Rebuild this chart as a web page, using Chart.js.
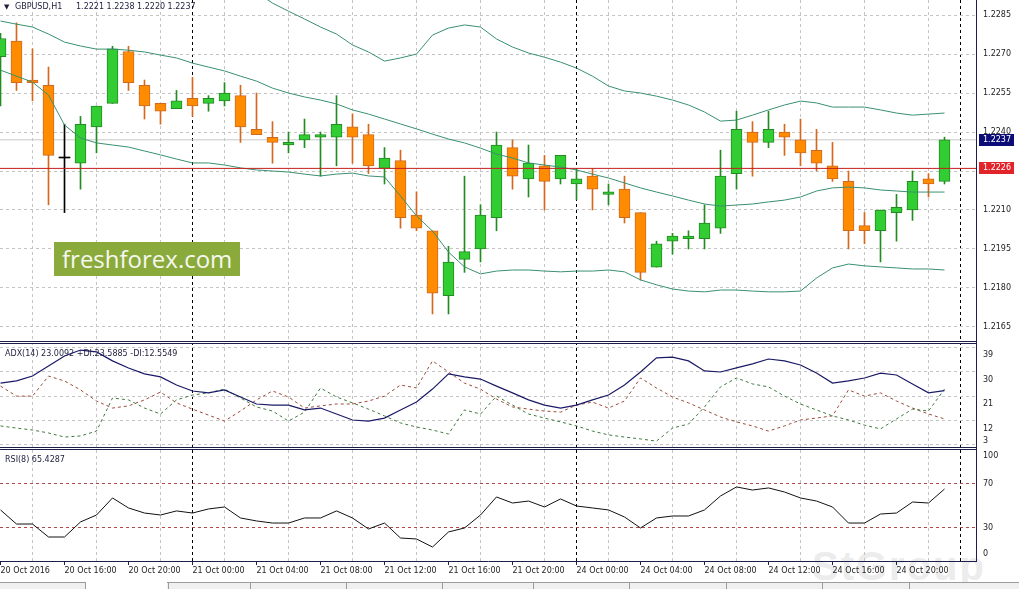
<!DOCTYPE html>
<html>
<head>
<meta charset="utf-8">
<script src="https://cdn.jsdelivr.net/npm/chart.js@4.4.0/dist/chart.umd.min.js"></script>
<style>
  html, body { margin: 0; padding: 0; background: #fff; }
  #wrap { position: relative; width: 1019px; height: 589px; overflow: hidden; font-family: 'DejaVu Sans', sans-serif; }
  #chart { position: absolute; left: 0; top: 0; z-index: 1; }
  .txt { position: absolute; z-index: 2; font-size: 8px; line-height: 10px; color: #1d1d3d; white-space: pre; }
  #brand { position: absolute; z-index: 2; left: 54px; top: 242px; width: 186px; height: 34px; background: #8aaa3c;
           color: #f6f8ee; font-family: 'Open Sans', sans-serif; font-size: 24px; line-height: 34px; text-indent: 8px; }
  #mark { position: absolute; z-index: 0; left: 812px; top: 544px; font-family: 'Liberation Sans', sans-serif;
          font-size: 40px; font-weight: bold; color: #ececec; letter-spacing: 2px; }
  #tabs { position: absolute; z-index: 2; left: 0; top: 582px; width: 1019px; height: 7px; background: #f0f0f0; border-top: 1px solid #9c9c9c; }
  #tabs i { position: absolute; top: 0; width: 1px; height: 7px; background: #9c9c9c; }
  #tabs b { position: absolute; top: -1px; left: 86px; width: 81px; height: 8px; background: #fff; }
</style>
</head>
<body>
<div id="wrap">
  <div id="mark">StGroup</div>
  <canvas id="chart" width="1019" height="589"></canvas>
  <div class="txt" style="left:4px;top:2px;font-size:7px;">▼</div>
  <div class="txt" style="left:15px;top:2px;">GBPUSD,H1</div>
  <div class="txt" style="left:76px;top:2px;">1.2221 1.2238 1.2220 1.2237</div>
  <div class="txt" style="left:5px;top:349px;">ADX(14) 23.0092 +DI:23.5885 -DI:12.5549</div>
  <div class="txt" style="left:5px;top:455px;">RSI(8) 65.4287</div>
  <div id="brand">freshforex.com</div>
  <div id="tabs"><b></b><i style="left:85px"></i><i style="left:168px"></i><i style="left:250px"></i><i style="left:346px"></i><i style="left:442px"></i><i style="left:533px"></i><i style="left:629px"></i><i style="left:726px"></i><i style="left:822px"></i><i style="left:909px"></i></div>
</div>
<script>
// GBPUSD H1, 20 Oct 12:00 .. 24 Oct 23:00
const openP = [
  1.2269, 1.2275, 1.2260, 1.2258, 1.2230, 1.2228, 1.2242, 1.2251, 1.2271, 1.2258,
  1.2251, 1.2249, 1.2253, 1.2251, 1.2252, 1.2254, 1.2241, 1.2238, 1.2235, 1.2237,
  1.2238, 1.2238, 1.2242, 1.2239, 1.2226, 1.2229, 1.2208, 1.2202, 1.2177, 1.2191,
  1.2195, 1.2207, 1.2234, 1.2222, 1.2227, 1.2222, 1.2220, 1.2223, 1.2216, 1.2218,
  1.2209, 1.2188, 1.2198, 1.2199, 1.2199, 1.2203, 1.2224, 1.2240, 1.2236, 1.2240,
  1.2237, 1.2233, 1.2227, 1.2221, 1.2204, 1.2202, 1.2209, 1.2210, 1.2222, 1.2221];
const highP = [
  1.2278, 1.2282, 1.2272, 1.2265, 1.2243, 1.2246, 1.2250, 1.2273, 1.2273, 1.2260,
  1.2251, 1.2256, 1.2261, 1.2254, 1.2259, 1.2258, 1.2255, 1.2244, 1.2240, 1.2245,
  1.2240, 1.2254, 1.2247, 1.2243, 1.2234, 1.2233, 1.2217, 1.2202, 1.2196, 1.2223,
  1.2212, 1.2240, 1.2237, 1.2235, 1.2231, 1.2231, 1.2226, 1.2226, 1.2220, 1.2223,
  1.2209, 1.2198, 1.2201, 1.2202, 1.2212, 1.2233, 1.2248, 1.2244, 1.2248, 1.2243,
  1.2245, 1.2241, 1.2236, 1.2225, 1.2209, 1.2210, 1.2216, 1.2225, 1.2224, 1.2238];
const lowP = [
  1.2250, 1.2256, 1.2252, 1.2212, 1.2209, 1.2218, 1.2232, 1.2251, 1.2256, 1.2245,
  1.2243, 1.2249, 1.2246, 1.2248, 1.2250, 1.2236, 1.2239, 1.2228, 1.2232, 1.2234,
  1.2223, 1.2227, 1.2228, 1.2224, 1.2220, 1.2203, 1.2202, 1.2170, 1.2170, 1.2186,
  1.2190, 1.2202, 1.2218, 1.2215, 1.2210, 1.2220, 1.2214, 1.2210, 1.2212, 1.2205,
  1.2183, 1.2188, 1.2193, 1.2195, 1.2195, 1.2201, 1.2218, 1.2223, 1.2234, 1.2231,
  1.2227, 1.2225, 1.2221, 1.2195, 1.2197, 1.2190, 1.2198, 1.2206, 1.2215, 1.2220];
const closeP = [
  1.2276, 1.2259, 1.2259, 1.2231, 1.2230, 1.2243, 1.2250, 1.2272, 1.2259, 1.2250,
  1.2248, 1.2252, 1.2250, 1.2253, 1.2255, 1.2242, 1.2239, 1.2236, 1.2236, 1.2239,
  1.2239, 1.2243, 1.2238, 1.2227, 1.2230, 1.2207, 1.2203, 1.2178, 1.2190, 1.2194,
  1.2208, 1.2235, 1.2223, 1.2228, 1.2221, 1.2231, 1.2222, 1.2218, 1.2217, 1.2207,
  1.2186, 1.2197, 1.2200, 1.2200, 1.2205, 1.2223, 1.2241, 1.2236, 1.2241, 1.2238,
  1.2232, 1.2228, 1.2222, 1.2202, 1.2202, 1.2210, 1.2211, 1.2221, 1.2220, 1.2237];

// Bollinger bands
const bbUpper = [
  1.23015, 1.23015, 1.23015, 1.23012, 1.23065, 1.23085, 1.23081, 1.23088, 1.23088, 1.23088,
  1.23081, 1.23073, 1.23050, 1.23019, 1.22996, 1.22969, 1.22938, 1.22896, 1.22865, 1.22835,
  1.22804, 1.22777, 1.22735, 1.22708, 1.22673, 1.22685, 1.22700, 1.22773, 1.22800, 1.22812,
  1.22804, 1.22758, 1.22727, 1.22704, 1.22688, 1.22669, 1.22646, 1.22615, 1.22577, 1.22558,
  1.22550, 1.22538, 1.22523, 1.22504, 1.22477, 1.22442, 1.22446, 1.22465, 1.22485, 1.22504,
  1.22519, 1.22512, 1.22496, 1.22496, 1.22496, 1.22485, 1.22473, 1.22465, 1.22469, 1.22473];
const bbMid = [
  1.22827, 1.22815, 1.22804, 1.22777, 1.22746, 1.22731, 1.22719, 1.22719, 1.22715, 1.22708,
  1.22696, 1.22685, 1.22665, 1.22650, 1.22635, 1.22615, 1.22596, 1.22569, 1.22550, 1.22535,
  1.22523, 1.22508, 1.22485, 1.22469, 1.22450, 1.22431, 1.22412, 1.22392, 1.22373, 1.22358,
  1.22338, 1.22315, 1.22300, 1.22281, 1.22273, 1.22265, 1.22254, 1.22238, 1.22223, 1.22204,
  1.22185, 1.22169, 1.22154, 1.22138, 1.22123, 1.22115, 1.22119, 1.22123, 1.22131, 1.22138,
  1.22150, 1.22173, 1.22185, 1.22188, 1.22185, 1.22177, 1.22173, 1.22169, 1.22169, 1.22169];
const bbLower = [
  1.22638, 1.22615, 1.22592, 1.22542, 1.22427, 1.22377, 1.22358, 1.22350, 1.22342, 1.22327,
  1.22312, 1.22296, 1.22281, 1.22281, 1.22273, 1.22262, 1.22254, 1.22250, 1.22246, 1.22238,
  1.22231, 1.22238, 1.22242, 1.22231, 1.22227, 1.22154, 1.22077, 1.22019, 1.21938, 1.21881,
  1.21854, 1.21865, 1.21869, 1.21869, 1.21865, 1.21862, 1.21865, 1.21865, 1.21869, 1.21862,
  1.21831, 1.21812, 1.21796, 1.21788, 1.21785, 1.21792, 1.21792, 1.21788, 1.21785, 1.21785,
  1.21788, 1.21838, 1.21877, 1.21892, 1.21885, 1.21881, 1.21877, 1.21873, 1.21873, 1.21869];

// ADX(14)
const adx = [
  25.8, 26.6, 28.4, 32.1, 35.8, 38.0, 37.3, 34.0, 31.4, 29.2,
  28.1, 25.1, 22.9, 22.2, 23.3, 20.7, 18.1, 17.7, 17.7, 15.9,
  16.6, 14.4, 12.2, 11.8, 12.9, 15.9, 18.8, 23.6, 29.2, 28.1,
  27.3, 24.7, 22.2, 19.6, 17.7, 16.6, 17.7, 19.6, 21.4, 25.1,
  29.9, 35.1, 35.4, 34.0, 30.3, 29.9, 31.4, 32.9, 34.7, 34.0,
  32.5, 29.5, 25.8, 26.6, 27.7, 29.5, 28.8, 25.5, 22.2, 23.0];
const plusDI = [
  10.0, 9.2, 8.5, 7.4, 5.9, 6.3, 8.1, 20.3, 19.6, 16.6,
  14.4, 19.6, 21.4, 22.2, 23.6, 20.3, 17.0, 15.5, 11.8, 15.1,
  24.0, 20.7, 18.5, 16.2, 13.7, 11.1, 9.6, 8.5, 7.0, 15.9,
  14.4, 21.0, 17.7, 14.4, 12.9, 11.5, 10.0, 8.1, 6.7, 5.9,
  5.2, 4.4, 9.2, 10.7, 17.0, 24.4, 27.7, 25.5, 24.4, 21.0,
  18.1, 15.9, 13.7, 12.2, 10.3, 8.9, 12.6, 16.2, 15.5, 23.6];
const minusDI = [
  24.7, 21.0, 21.0, 28.4, 26.6, 23.3, 19.2, 16.6, 17.4, 19.6,
  22.5, 18.5, 16.2, 14.0, 11.8, 15.5, 19.6, 22.9, 20.7, 16.6,
  17.4, 18.1, 18.1, 19.2, 21.0, 25.1, 24.0, 34.0, 29.9, 25.8,
  23.6, 19.9, 17.0, 16.2, 15.5, 15.1, 17.7, 18.8, 16.6, 19.2,
  27.7, 24.0, 20.7, 18.5, 15.9, 13.3, 11.5, 10.0, 8.1, 10.0,
  12.2, 12.9, 13.7, 23.3, 21.0, 22.2, 19.2, 16.6, 14.4, 12.6];

// RSI(8)
const rsi = [
  46.4, 33.6, 33.6, 21.8, 21.8, 35.5, 41.8, 57.3, 48.2, 43.6,
  41.8, 45.5, 43.6, 47.3, 49.1, 39.1, 36.4, 34.5, 34.5, 39.1,
  39.1, 45.5, 39.1, 29.1, 34.5, 20.9, 20.0, 12.7, 26.4, 30.0,
  41.8, 58.2, 52.7, 54.5, 49.1, 56.4, 50.0, 48.2, 46.4, 40.0,
  30.0, 39.1, 40.9, 40.9, 46.4, 59.1, 67.3, 64.5, 66.4, 62.7,
  57.3, 54.5, 49.1, 34.5, 34.5, 42.7, 43.6, 53.6, 52.7, 65.4];

const xLabelIdx = [0, 4, 8, 12, 16, 20, 24, 28, 32, 36, 40, 44, 48, 52, 56];
const xLabels = ['20 Oct 2016', '20 Oct 16:00', '20 Oct 20:00', '21 Oct 00:00', '21 Oct 04:00',
  '21 Oct 08:00', '21 Oct 12:00', '21 Oct 16:00', '21 Oct 20:00', '24 Oct 00:00',
  '24 Oct 04:00', '24 Oct 08:00', '24 Oct 12:00', '24 Oct 16:00', '24 Oct 20:00'];
const gridIdx = [2, 6, 10, 14, 18, 22, 26, 30, 34, 38, 42, 46, 50, 54, 58];
const sepIdx = [12, 36, 60];
const priceTicks = [1.2165, 1.2180, 1.2195, 1.2210, 1.2225, 1.2240, 1.2255, 1.2270, 1.2285];
const adxTicks = [3, 12, 21, 30, 39];
const rsiTicks = [0, 30, 70, 100];
const rsiLevels = [30, 70];
const bidPrice = 1.2237;
const linePrice = 1.2226;

// view window
const X_MIN = -1 / 32, X_MAX = 61 - 1 / 32;
const Y_MIN = 1.21592, Y_MAX = 1.22908;
const A_MIN = 1.86, A_MAX = 40.97;
const R_MIN = 0, R_MAX = 102.7;

const BULL = '#32cd32', BULL_EDGE = '#228b22';
const BEAR = '#ff8c00', BEAR_EDGE = '#d2691e';
const BAND = '#3a9070', AXIS = '#1e1e4a', GRID = '#c4c4c4';

const idx = closeP.map((_, i) => i);
const kind = idx.map(i => Math.sign(closeP[i] - openP[i]));
const bodyFill = kind.map(k => k > 0 ? BULL : k < 0 ? BEAR : '#000');
const edge = kind.map(k => k > 0 ? BULL_EDGE : k < 0 ? BEAR_EDGE : '#000');
const pts = arr => arr.map((v, i) => ({ x: i, y: v }));
const hline = v => [{ x: X_MIN, y: v }, { x: X_MAX, y: v }];

Chart.defaults.font.family = "'DejaVu Sans', sans-serif";
Chart.defaults.font.size = 8;
Chart.defaults.color = '#1c1c1c';

const line = (data, yAxisID, color, extra) => Object.assign({
  type: 'line', data, xAxisID: 'x', yAxisID, borderColor: color, borderWidth: 1,
  pointRadius: 0, pointHoverRadius: 0, tension: 0, fill: false
}, extra || {});

const fixY = s => { s.width = 43; s.paddingTop = 0; s.paddingBottom = 0; };
const noHeight = s => { s.height = 0; s.paddingLeft = 0; s.paddingRight = 0; };
const xBase = { type: 'linear', axis: 'x', position: 'bottom', min: X_MIN, max: X_MAX, offset: false };

const panelFrame = {
  id: 'panelFrame',
  afterDraw(chart) {
    const { ctx, chartArea } = chart;
    ctx.save();
    [chart.scales.y.bottom, chart.scales.yA.bottom].forEach(b => {
      ctx.fillStyle = '#fff';
      ctx.fillRect(chartArea.left, b - 1, chartArea.right - chartArea.left, 3);
      ctx.strokeStyle = AXIS;
      ctx.lineWidth = 1;
      [b - 0.5, b + 1.5].forEach(yy => {
        ctx.beginPath(); ctx.moveTo(chartArea.left, yy); ctx.lineTo(chartArea.right, yy); ctx.stroke();
      });
    });
    ctx.restore();
  }
};

const subLabels = {
  id: 'subLabels',
  afterDraw(chart) {
    const ctx = chart.ctx;
    ctx.save();
    ctx.font = "8px 'DejaVu Sans'";
    ctx.fillStyle = '#1c1c1c';
    ctx.textBaseline = 'middle';
    [['yA', adxTicks, 8], ['yR', rsiTicks, 0]].forEach(([id, ticks, off]) => {
      const s = chart.scales[id];
      ticks.forEach(v => {
        const y = Math.min(Math.max(s.getPixelForValue(v) + off, s.top + 8), s.bottom - 7);
        ctx.fillText(String(v), s.left + 7, y);
      });
    });
    ctx.restore();
  }
};

const priceTags = {
  id: 'priceTags',
  afterDraw(chart) {
    const ctx = chart.ctx, s = chart.scales.y;
    ctx.save();
    ctx.font = "8px 'DejaVu Sans'";
    ctx.textBaseline = 'middle';
    [[linePrice, '#e3232a'], [bidPrice, '#0c0c78']].forEach(([v, c]) => {
      const y = s.getPixelForValue(v);
      ctx.fillStyle = c;
      ctx.fillRect(s.left + 3, Math.round(y) - 6, 35, 12);
      ctx.fillStyle = '#fff';
      ctx.fillText(v.toFixed(4), s.left + 7, y);
    });
    ctx.restore();
  }
};

new Chart(document.getElementById('chart'), {
  type: 'bar',
  data: {
    datasets: [
      line(hline(linePrice), 'y', '#c41e1e', { order: -1 }),
      line(pts(bbUpper), 'y', BAND, { order: 0 }),
      line(pts(bbMid), 'y', BAND, { order: 0 }),
      line(pts(bbLower), 'y', BAND, { order: 0 }),
      {
        type: 'bar', xAxisID: 'x', yAxisID: 'y', order: 1,
        data: idx.map(i => ({ x: i, y: [openP[i], closeP[i]] })),
        backgroundColor: bodyFill, borderColor: edge,
        borderWidth: kind.map(k => k === 0 ? 0 : 1), borderSkipped: false,
        barThickness: 11, minBarLength: 1, grouped: false
      },
      {
        type: 'bar', xAxisID: 'x', yAxisID: 'y', order: 2,
        data: idx.map(i => ({ x: i, y: [lowP[i], highP[i]] })),
        backgroundColor: edge, borderWidth: 0, barThickness: 1, grouped: false
      },
      line(hline(bidPrice), 'y', '#c8c8c8', { order: 3 }),
      line(pts(adx), 'yA', '#1a1a66', { borderWidth: 1.2 }),
      line(pts(plusDI), 'yA', '#3f7a3f', { borderDash: [3, 3] }),
      line(pts(minusDI), 'yA', '#9c4a3a', { borderDash: [3, 3] }),
      line(pts(rsi), 'yR', '#111111')
    ]
  },
  options: {
    responsive: false,
    animation: false,
    events: [],
    layout: { padding: 0 },
    plugins: { legend: { display: false }, tooltip: { enabled: false } },
    scales: {
      x: Object.assign({}, xBase, {
        ticks: { display: false },
        grid: { color: GRID, drawTicks: false, offset: false },
        border: { display: false, dash: [3, 3] },
        afterBuildTicks: s => { s.ticks = gridIdx.map(v => ({ value: v })); },
        afterFit: noHeight
      }),
      xs: Object.assign({}, xBase, {
        ticks: { display: false },
        grid: { color: '#000', drawTicks: false, offset: false },
        border: { display: false, dash: [3, 3] },
        afterBuildTicks: s => { s.ticks = sepIdx.map(v => ({ value: v })); },
        afterFit: noHeight
      }),
      xl: Object.assign({}, xBase, {
        ticks: {
          align: 'start', autoSkip: false, maxRotation: 0, padding: 1, color: '#1c1c1c',
          callback: v => xLabels[xLabelIdx.indexOf(v)]
        },
        grid: { drawOnChartArea: false, drawTicks: true, tickLength: 4, color: AXIS, offset: false },
        border: { display: true, color: AXIS },
        afterBuildTicks: s => { s.ticks = xLabelIdx.map(v => ({ value: v })); },
        afterFit: s => { s.height = 28; s.paddingLeft = 0; s.paddingRight = 0; }
      }),
      y: {
        type: 'linear', axis: 'y', position: 'right', stack: 'panes', stackWeight: 342,
        min: Y_MIN, max: Y_MAX, beginAtZero: false,
        ticks: { padding: 7, color: '#1c1c1c', callback: v => v.toFixed(4) },
        grid: { color: GRID, drawTicks: false },
        border: { display: true, color: AXIS, dash: [3, 3] },
        afterBuildTicks: s => { s.ticks = priceTicks.map(v => ({ value: v })); },
        afterFit: fixY
      },
      yA: {
        type: 'linear', axis: 'y', position: 'right', stack: 'panes', stackWeight: 106,
        min: A_MIN, max: A_MAX, beginAtZero: false,
        ticks: { display: false },
        grid: { color: GRID, drawTicks: false },
        border: { display: true, color: AXIS, dash: [3, 3] },
        afterBuildTicks: s => { s.ticks = adxTicks.map(v => ({ value: v })); },
        afterFit: fixY
      },
      yR: {
        type: 'linear', axis: 'y', position: 'right', stack: 'panes', stackWeight: 113,
        min: R_MIN, max: R_MAX, beginAtZero: false,
        ticks: { display: false },
        grid: {
          drawTicks: false,
          color: c => rsiLevels.includes(c.tick && c.tick.value) ? '#b04848' : 'rgba(0,0,0,0)'
        },
        border: { display: true, color: AXIS, dash: [3, 3] },
        afterBuildTicks: s => { s.ticks = rsiTicks.map(v => ({ value: v })); },
        afterFit: fixY
      }
    }
  },
  plugins: [panelFrame, subLabels, priceTags]
});
</script>
</body>
</html>
